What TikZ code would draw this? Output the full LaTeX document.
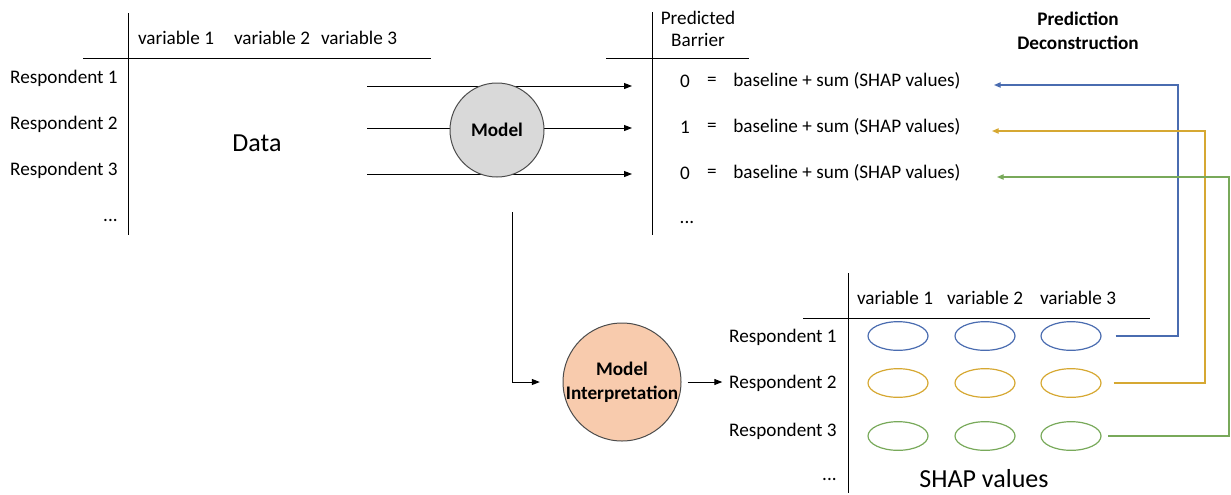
\documentclass[tikz,border=0pt]{standalone}
\usepackage{fontspec}
\setmainfont{Carlito}
\usetikzlibrary{arrows.meta,shapes.geometric}
\definecolor{rowblue}{HTML}{4A6CB0}
\definecolor{rowyellow}{HTML}{D6A832}
\definecolor{rowgreen}{HTML}{78A95A}
\definecolor{modelgrey}{HTML}{D9D9D9}
\definecolor{interppeach}{HTML}{F8CBAD}
\tikzset{
  txt/.style={inner sep=0pt, font=\fontsize{14.4}{17}\selectfont},
  bigtxt/.style={inner sep=0pt, font=\fontsize{19.5}{22}\selectfont},
  boldtxt/.style={inner sep=0pt, align=center, font=\fontsize{14.4}{18}\selectfont\bfseries},
  rule/.style={line width=0.75pt},
  flow/.style={-{Triangle[length=6pt,width=4.5pt]}, line width=0.75pt},
  back/.style={-{Triangle[length=5pt,width=4pt]}, line width=0.9pt},
  bubble/.style={circle, draw=black!70, line width=0.75pt, inner sep=0pt},
  shap/.style={ellipse, draw, line width=0.9pt, minimum width=45pt, minimum height=21.5pt, inner sep=0pt}
}

\begin{document}
\begin{tikzpicture}[x=0.75pt, y=-0.75pt]
\useasboundingbox (0,0) rectangle (1231,494);
% data table
\draw[rule] (128,13) -- (128,235);
\draw[rule] (83,58) -- (431,58);
\node[txt] (dv1) at (176,38) {variable 1};
\node[txt] (dv2) at (272,38) {variable 2};
\node[txt] (dv3) at (359,38) {variable 3};
\node[txt, anchor=east] (dr1) at (118,78) {Respondent 1};
\node[txt, anchor=east] (dr2) at (118,124) {Respondent 2};
\node[txt, anchor=east] (dr3) at (118,170) {Respondent 3};
\node[txt, anchor=east] (dr4) at (118,220) {...};
\node[bigtxt] (data) at (257,143) {Data};
% model
\coordinate (i1) at (367,86);
\coordinate (i2) at (367,128);
\coordinate (i3) at (367,174);
\coordinate (o1) at (632,86);
\coordinate (o2) at (632,128);
\coordinate (o3) at (632,174);
\draw[flow] (i1) -- (o1);
\draw[flow] (i2) -- (o2);
\draw[flow] (i3) -- (o3);
\node[bubble, fill=modelgrey, minimum size=70.5pt] (model) at (497,130) {};
\node[boldtxt] at (model) {Model};
% predicted barrier
\draw[rule] (652,12) -- (652,235);
\draw[rule] (606,58) -- (749,58);
\node[txt, align=center] (pb) at (698,29) {Predicted\\Barrier};
\node[txt] (y1) at (685,81) {0};
\node[txt] (y2) at (685,127) {1};
\node[txt] (y3) at (685,173) {0};
\node[txt] (q1) at (712,81) {=};
\node[txt] (q2) at (712,127) {=};
\node[txt] (q3) at (712,173) {=};
\node[txt, anchor=west] (p1) at (733,81) {baseline + sum (SHAP values)};
\node[txt, anchor=west] (p2) at (733,127) {baseline + sum (SHAP values)};
\node[txt, anchor=west] (p3) at (733,173) {baseline + sum (SHAP values)};
\node[txt] (y4) at (687,222) {...};
\node[boldtxt] (pd) at (1078,31) {Prediction\\Deconstruction};
% interpretation
\coordinate (m0) at (512,212);
\node[bubble, fill=interppeach, minimum size=88.5pt] (interp) at (622,382) {};
\node[boldtxt] at (interp) {Model\\Interpretation};
\draw[flow, shorten >=17pt] (m0) |- (interp.west);
% shap table
\draw[rule] (848,273) -- (848,493);
\draw[rule] (803,318) -- (1150,318);
\node[txt] (sv1) at (895,298) {variable 1};
\node[txt] (sv2) at (985,298) {variable 2};
\node[txt] (sv3) at (1078,298) {variable 3};
\node[txt, anchor=east] (sr1) at (837,337) {Respondent 1};
\node[txt, anchor=east] (sr2) at (837,383) {Respondent 2};
\node[txt, anchor=east] (sr3) at (837,431) {Respondent 3};
\node[txt, anchor=east] (sr4) at (837,479) {...};
\node[bigtxt] (shapv) at (984,479) {SHAP values};
\draw[flow, shorten <=4.5pt, shorten >=5pt] (interp.east) -- (interp.east -| sr2.west);
\node[shap, draw=rowblue] (e11) at (898,336) {};
\node[shap, draw=rowblue] (e12) at (985,336) {};
\node[shap, draw=rowblue] (e13) at (1071,336) {};
\node[shap, draw=rowyellow] (e21) at (898,383) {};
\node[shap, draw=rowyellow] (e22) at (985,383) {};
\node[shap, draw=rowyellow] (e23) at (1071,383) {};
\node[shap, draw=rowgreen] (e31) at (898,436) {};
\node[shap, draw=rowgreen] (e32) at (985,436) {};
\node[shap, draw=rowgreen] (e33) at (1071,436) {};
% back to the predictions
\coordinate (b1) at (1178,85);
\coordinate (b2) at (1205,131);
\coordinate (b3) at (1229,177);
\coordinate (t1) at (994,85);
\coordinate (t2) at (992,131);
\coordinate (t3) at (997,177);
\draw[back, rowblue, shorten <=10.5pt] (e13.east) -| (b1) -- (t1);
\draw[back, rowyellow, shorten <=9pt] (e23.east) -| (b2) -- (t2);
\draw[back, rowgreen, shorten <=5pt] (e33.east) -| (b3) -- (t3);
\end{tikzpicture}
\end{document}
